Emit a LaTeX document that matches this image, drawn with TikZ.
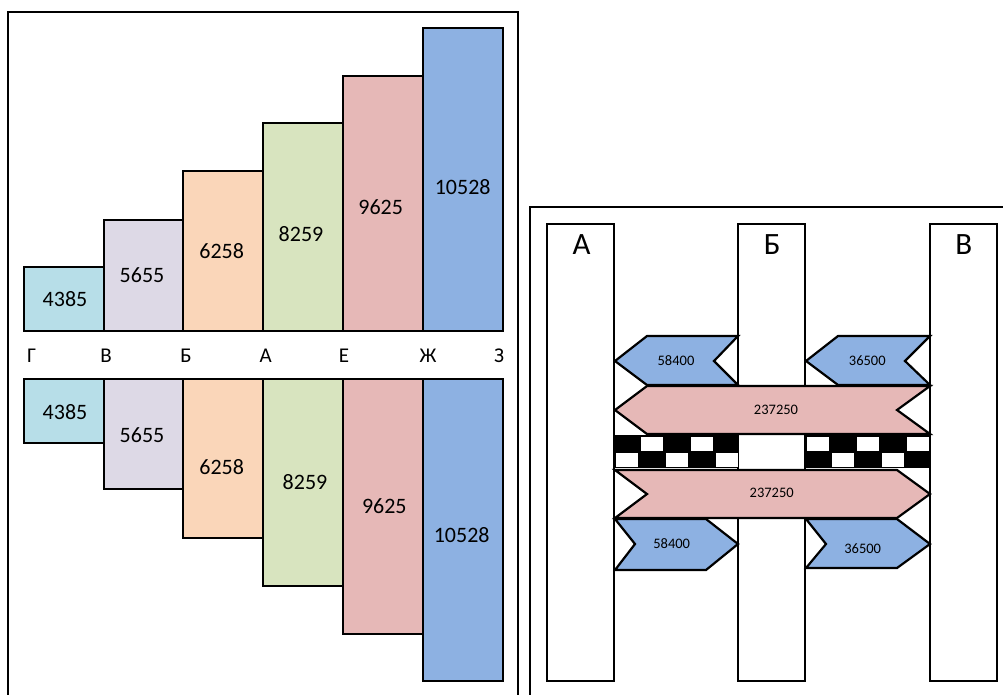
\documentclass[tikz,border=0pt]{standalone}
\usepackage{fontspec}
\setmainfont{Carlito}
\definecolor{cA}{HTML}{B7DEE8}
\definecolor{cB}{HTML}{DDD9E6}
\definecolor{cC}{HTML}{FAD6B9}
\definecolor{cD}{HTML}{D8E4BF}
\definecolor{cE}{HTML}{E6B8B7}
\definecolor{cF}{HTML}{8DB1E2}
\begin{document}
\begin{tikzpicture}[x=1pt,y=-1pt,
  frame/.style={draw=black, line width=1.6pt},
  bar/.style={draw=black, line width=2pt, line join=miter},
  col/.style={draw=black, fill=white, line width=2pt},
  arr/.style={draw=black, line width=2.2pt, line join=miter},
  num/.style={font=\fontsize{22}{26}\selectfont, inner sep=0pt},
  lbl/.style={font=\fontsize{21}{25}\selectfont, inner sep=0pt},
  big/.style={font=\fontsize{31}{36}\selectfont, inner sep=0pt},
  small/.style={font=\fontsize{14.5}{17}\selectfont, inner sep=0pt}]
\useasboundingbox (0,0) rectangle (1003,694);
\clip (0,0) rectangle (1003,694);
\fill[white] (0,0) rectangle (1003,694);
% frames
\draw[frame] (8,720) -- (8,12) -- (518,12) -- (518,720);
\draw[frame] (530,720) -- (530,207) -- (1010,207);
% top bars
\draw[bar, fill=cA] (24,267) rectangle (104,331);
\draw[bar, fill=cB] (104,220) rectangle (183,331);
\draw[bar, fill=cC] (183,171) rectangle (263,331);
\draw[bar, fill=cD] (263,123) rectangle (343,331);
\draw[bar, fill=cE] (343,76) rectangle (423,331);
\draw[bar, fill=cF] (423,28) rectangle (503,331);
\node[num] (t1) at (65,299) {4385};
\node[num] (t2) at (142,275) {5655};
\node[num] (t3) at (221.7,251) {6258};
\node[num] (t4) at (301,234) {8259};
\node[num] (t5) at (380.7,207) {9625};
\node[num] (t6) at (462.7,187) {10528};
% labels
\node[lbl] (lG) at (31.7,356) {Г};
\node[lbl] (lV) at (106,356) {В};
\node[lbl] (lB) at (186,356) {Б};
\node[lbl] (lA) at (265.7,356) {А};
\node[lbl] (lE) at (344,356) {Е};
\node[lbl] (lZh) at (428,356) {Ж};
\node[lbl] (lZ) at (499,356) {З};
% bottom bars
\draw[bar, fill=cA] (24,379) rectangle (104,443);
\draw[bar, fill=cB] (104,379) rectangle (183,489);
\draw[bar, fill=cC] (183,379) rectangle (263,538);
\draw[bar, fill=cD] (263,379) rectangle (343,586);
\draw[bar, fill=cE] (343,379) rectangle (423,634);
\draw[bar, fill=cF] (423,379) rectangle (503,681);
\node[num] (b1) at (65,412) {4385};
\node[num] (b2) at (142,435.3) {5655};
\node[num] (b3) at (221.7,466.7) {6258};
\node[num] (b4) at (305,482.3) {8259};
\node[num] (b5) at (384.3,506) {9625};
\node[num] (b6) at (461.7,534.7) {10528};
% right panel columns
\draw[col] (547,224) rectangle (614,681);
\draw[col] (738,224) rectangle (805,681);
\draw[col] (930,224) rectangle (997,681);
\node[big] (cA) at (581.7,245) {А};
\node[big] (cB) at (772.3,245) {Б};
\node[big] (cV) at (963.7,245) {В};
% upper blue arrows
\draw[arr, fill=cF] (615,361) -- (647,336) -- (738,336) -- (714,361) -- (738,385) -- (647,385) -- cycle;
\draw[arr, fill=cF] (806,361) -- (838,336) -- (930,336) -- (905,361) -- (930,385) -- (838,385) -- cycle;
\node[small] (u1) at (676,361) {58400};
\node[small] (u2) at (867.3,361) {36500};
% upper pink arrow
\draw[arr, fill=cE] (615,410) -- (647,386) -- (930,386) -- (897,410) -- (930,434) -- (647,434) -- cycle;
\node[small] (p1) at (776,410) {237250};
% checker strip
\fill[black] (614,435) rectangle (739,468);
\fill[black] (805,435) rectangle (931,468);
\foreach \x in {640,690} {\fill[white] (\x+0.5,436.8) rectangle (\x+23,450.7);}
\foreach \x in {615,665,715} {\fill[white] (\x+0.5,453.3) rectangle (\x+23,466.7);}
\foreach \x in {806,856,906} {\fill[white] (\x+0.7,436.8) rectangle (\x+23.3,450.7);}
\foreach \x in {831,881} {\fill[white] (\x+0.7,453.3) rectangle (\x+23.3,466.7);}
% lower pink arrow
\draw[arr, fill=cE] (615,470) -- (897,470) -- (930,494) -- (897,518) -- (615,518) -- (647,494) -- cycle;
\node[small] (p2) at (771.7,493.3) {237250};
% lower blue arrows
\draw[arr, fill=cF] (615,519) -- (706,519) -- (738,544) -- (706,570) -- (615,570) -- (635,544) -- cycle;
\draw[arr, fill=cF] (806,519) -- (897,519) -- (930,544) -- (897,568) -- (806,568) -- (826,544) -- cycle;
\node[small] (d1) at (671.7,543.3) {58400};
\node[small] (d2) at (862.7,548.3) {36500};
\end{tikzpicture}
\end{document}
